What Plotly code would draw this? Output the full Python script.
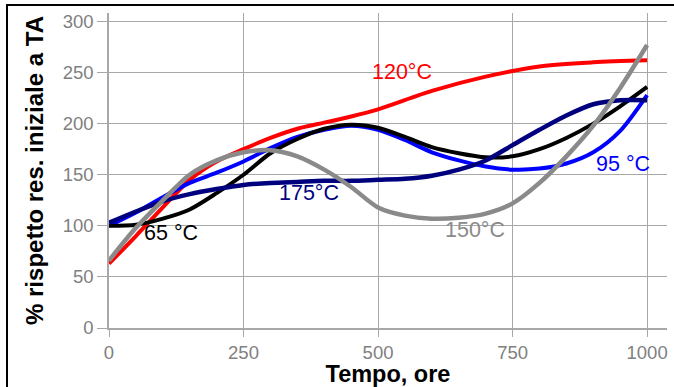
import plotly.graph_objects as go

# ---- data ----
x_red = [0, 50, 100, 150, 200, 250, 300, 350, 400, 450, 500, 600, 700, 800, 900, 1000]
y_red = [63, 90, 118, 145, 163, 175, 186, 195, 201, 207, 214, 232, 246, 256, 260, 262]

x_blue = [0, 50, 100, 150, 200, 250, 300, 350, 400, 450, 500, 550, 600, 650, 700, 750, 800, 850, 900, 950, 1000]
y_blue = [100, 113, 128, 142, 152, 163, 176, 187, 194, 198, 194, 184, 172, 164, 158, 155, 156, 161, 172, 193, 228]

x_black = [0, 50, 100, 150, 200, 250, 300, 350, 400, 450, 500, 550, 600, 650, 700, 750, 800, 850, 900, 950, 1000]
y_black = [100, 101, 107, 116, 132, 150, 171, 185, 195, 199, 196, 187, 177, 171, 167, 168, 175, 186, 200, 217, 236]

x_navy = [0, 50, 100, 150, 200, 250, 300, 350, 400, 450, 500, 550, 600, 650, 700, 750, 800, 850, 900, 950, 1000]
y_navy = [103, 114, 124, 131, 136, 140, 142, 143, 144, 144, 145, 146, 149, 155, 164, 179, 194, 208, 219, 223, 223]

x_gray = [0, 50, 100, 150, 200, 250, 300, 350, 400, 450, 500, 550, 600, 650, 700, 750, 800, 850, 900, 950, 1000]
y_gray = [66, 98, 125, 150, 164, 172, 174, 168, 155, 138, 118, 110, 107, 108, 112, 122, 142, 168, 198, 235, 277]

series_names = ["120°C", "95 °C", "65 °C", "175°C", "150°C"]
series_colors = ["#ff0000", "#0000ff", "#000000", "#00007f", "#8a8a8a"]
series_widths = [4, 4, 4, 4.5, 4.5]

label_x = [545, 955, 115, 372, 680]
label_y = [251, 161, 93, 132, 96]

x_ticks = [0, 250, 500, 750, 1000]
y_ticks = [0, 50, 100, 150, 200, 250, 300]

xs = [x_red, x_blue, x_black, x_navy, x_gray]
ys = [y_red, y_blue, y_black, y_navy, y_gray]

FONT = "Arial, 'Liberation Sans', sans-serif"

fig = go.Figure()
for xv, yv, nm, col, w in zip(xs, ys, series_names, series_colors, series_widths):
    fig.add_trace(go.Scatter(x=xv, y=yv, mode="lines", name=nm,
                             line=dict(color=col, width=w, shape="spline", smoothing=0.8),
                             showlegend=False, hoverinfo="skip"))

for nm, col, lx, ly in zip(series_names, series_colors, label_x, label_y):
    fig.add_annotation(x=lx, y=ly, text=nm, showarrow=False,
                       font=dict(family=FONT, size=21.5, color=col),
                       xanchor="center", yanchor="middle")

grid_col = "#a8a8a8"
fig.update_xaxes(range=[0, 1037], tickvals=x_ticks, ticktext=[str(v) for v in x_ticks],
                 showgrid=True, gridcolor=grid_col, gridwidth=1,
                 showline=True, linecolor=grid_col, linewidth=1.5,
                 ticks="outside", ticklen=7, tickcolor=grid_col,
                 tickfont=dict(family=FONT, size=18.5, color="#808080"),
                 zeroline=False, automargin=False,
                 title=dict(text="<b>Tempo, ore</b>", font=dict(family=FONT, size=23.5, color="#000"),
                            standoff=2))
fig.update_yaxes(range=[0, 308.3], tickvals=y_ticks, ticktext=[str(v) for v in y_ticks],
                 showgrid=True, gridcolor=grid_col, gridwidth=1,
                 showline=True, linecolor=grid_col, linewidth=1.5,
                 ticks="outside", ticklen=10, tickcolor=grid_col,
                 tickfont=dict(family=FONT, size=18.5, color="#808080"),
                 zeroline=False, automargin=False,
                 title=dict(text="<b>% rispetto res. iniziale a TA</b>",
                            font=dict(family=FONT, size=24, color="#000"), standoff=12))

fig.add_shape(type="rect", xref="paper", yref="paper",
              x0=-0.1828, x1=1.1, y0=-0.3, y1=1.0254,
              line=dict(color="#000", width=2), fillcolor="rgba(0,0,0,0)", layer="above")

fig.update_layout(width=674, height=387,
                  margin=dict(l=109, r=7, t=13, b=59),
                  paper_bgcolor="white", plot_bgcolor="white",
                  font=dict(family=FONT))

fig.write_html("out.html", config={"displayModeBar": False},
               post_script="document.body.style.margin='0';")
